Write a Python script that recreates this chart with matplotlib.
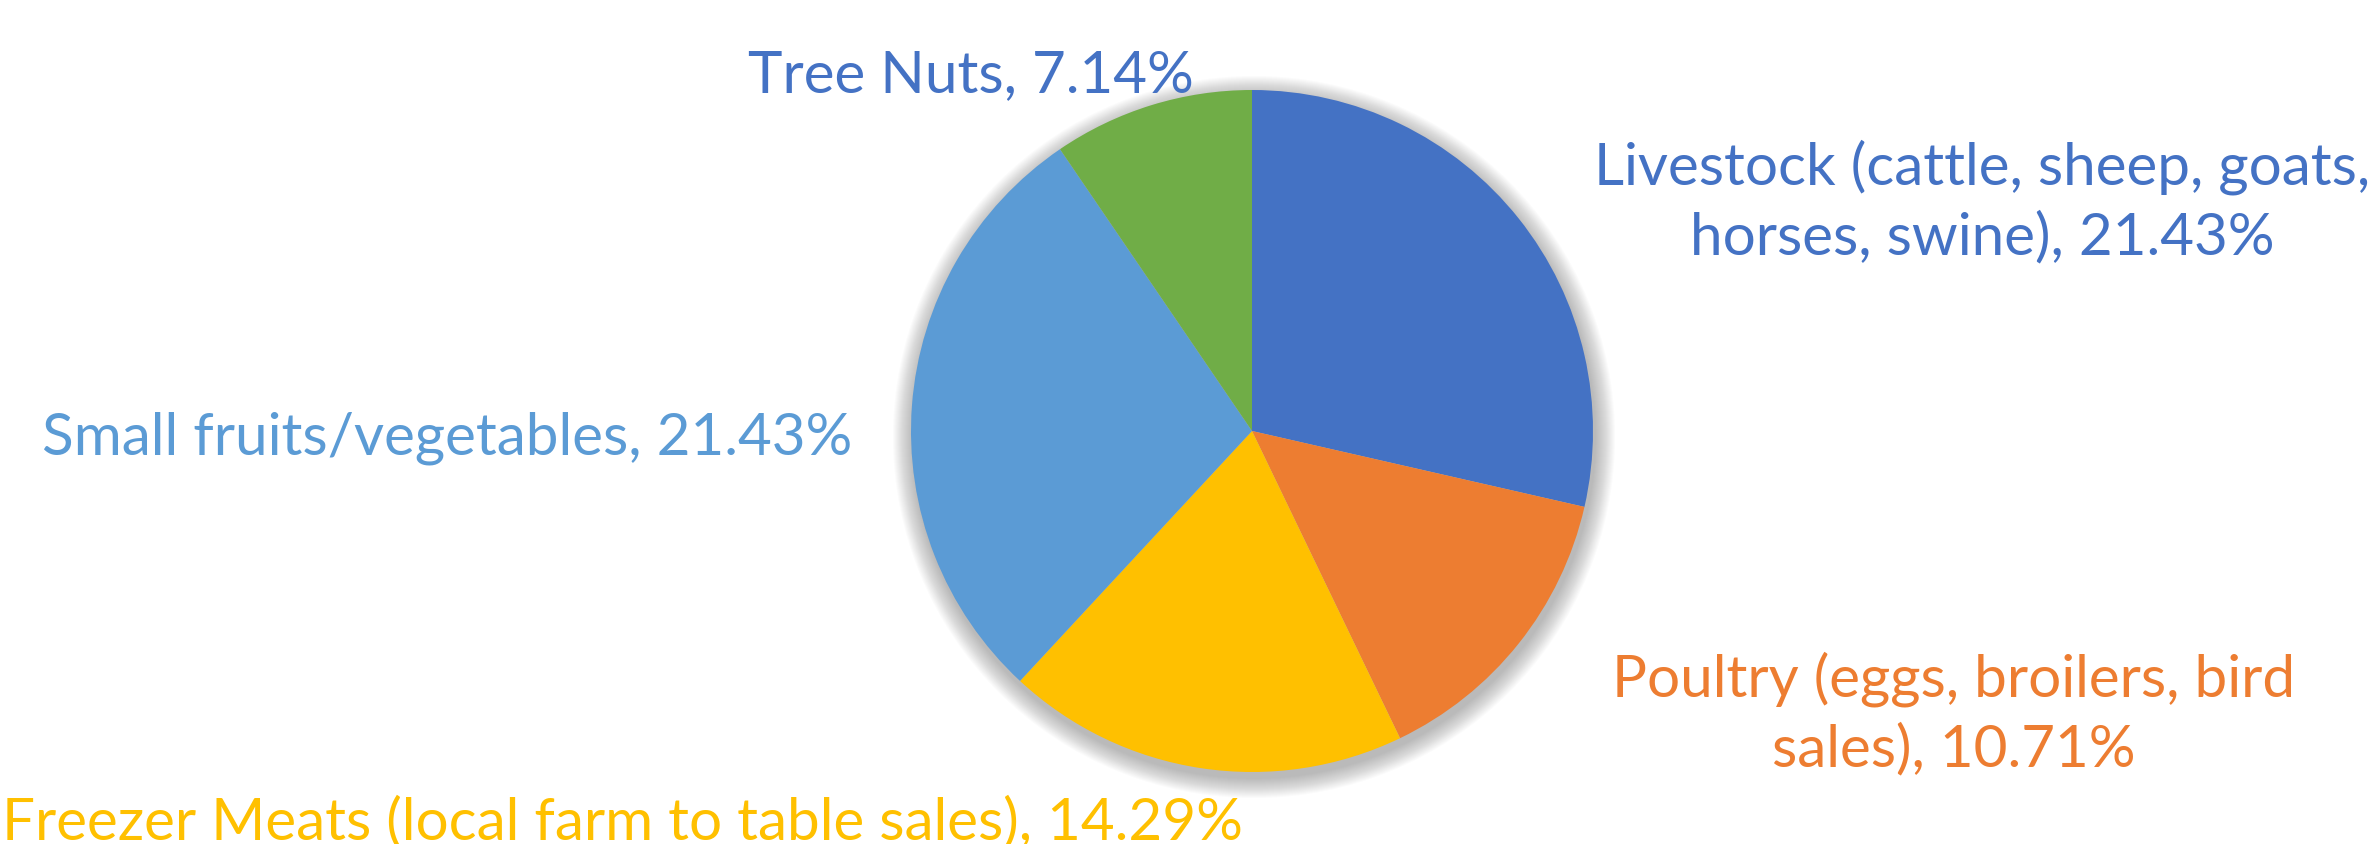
import matplotlib.pyplot as plt
from matplotlib.patches import Circle

# slice data
categories = ['Livestock (cattle, sheep, goats,\nhorses, swine)',
              'Poultry (eggs, broilers, bird\nsales)',
              'Freezer Meats (local farm to table sales)',
              'Small fruits/vegetables',
              'Tree Nuts']
shares = [21.43, 10.71, 14.29, 21.43, 7.14]
colors = ['#4472C4', '#ED7D31', '#FFC000', '#5B9BD5', '#70AD47']
label_colors = ['#4472C4', '#ED7D31', '#FFC000', '#5B9BD5', '#4472C4']

# label anchor points in figure pixels (x, y from top)
label_pos = [(1982, 202), (1954, 714), (622, 823), (447, 438), (971, 76)]

W, H = 2375, 845
fig = plt.figure(figsize=(W / 100, H / 100), dpi=100)
ax = fig.add_axes([0, 0, 1, 1])

cx, cy, r = 1252, H - 432, 341

# soft drop shadow
for k in range(20):
    ax.add_patch(Circle((cx + 2, cy - 6), r + 20 - k, color='#707070',
                        alpha=0.028, lw=0, zorder=1))

ax.pie(shares, colors=colors, startangle=90, counterclock=False,
       center=(cx, cy), radius=r, frame=True,
       wedgeprops=dict(linewidth=0, zorder=2))
ax.set_xlim(0, W)
ax.set_ylim(0, H)
ax.set_aspect('equal')
ax.axis('off')

for name, val, col, (x, y) in zip(categories, shares, label_colors, label_pos):
    ax.text(x, H - y, f'{name}, {val:.2f}%', color=col, fontsize=42,
            family='Lato', ha='center', va='center', linespacing=1.35,
            zorder=3)

fig.savefig('out.png', dpi=100, facecolor='white')
